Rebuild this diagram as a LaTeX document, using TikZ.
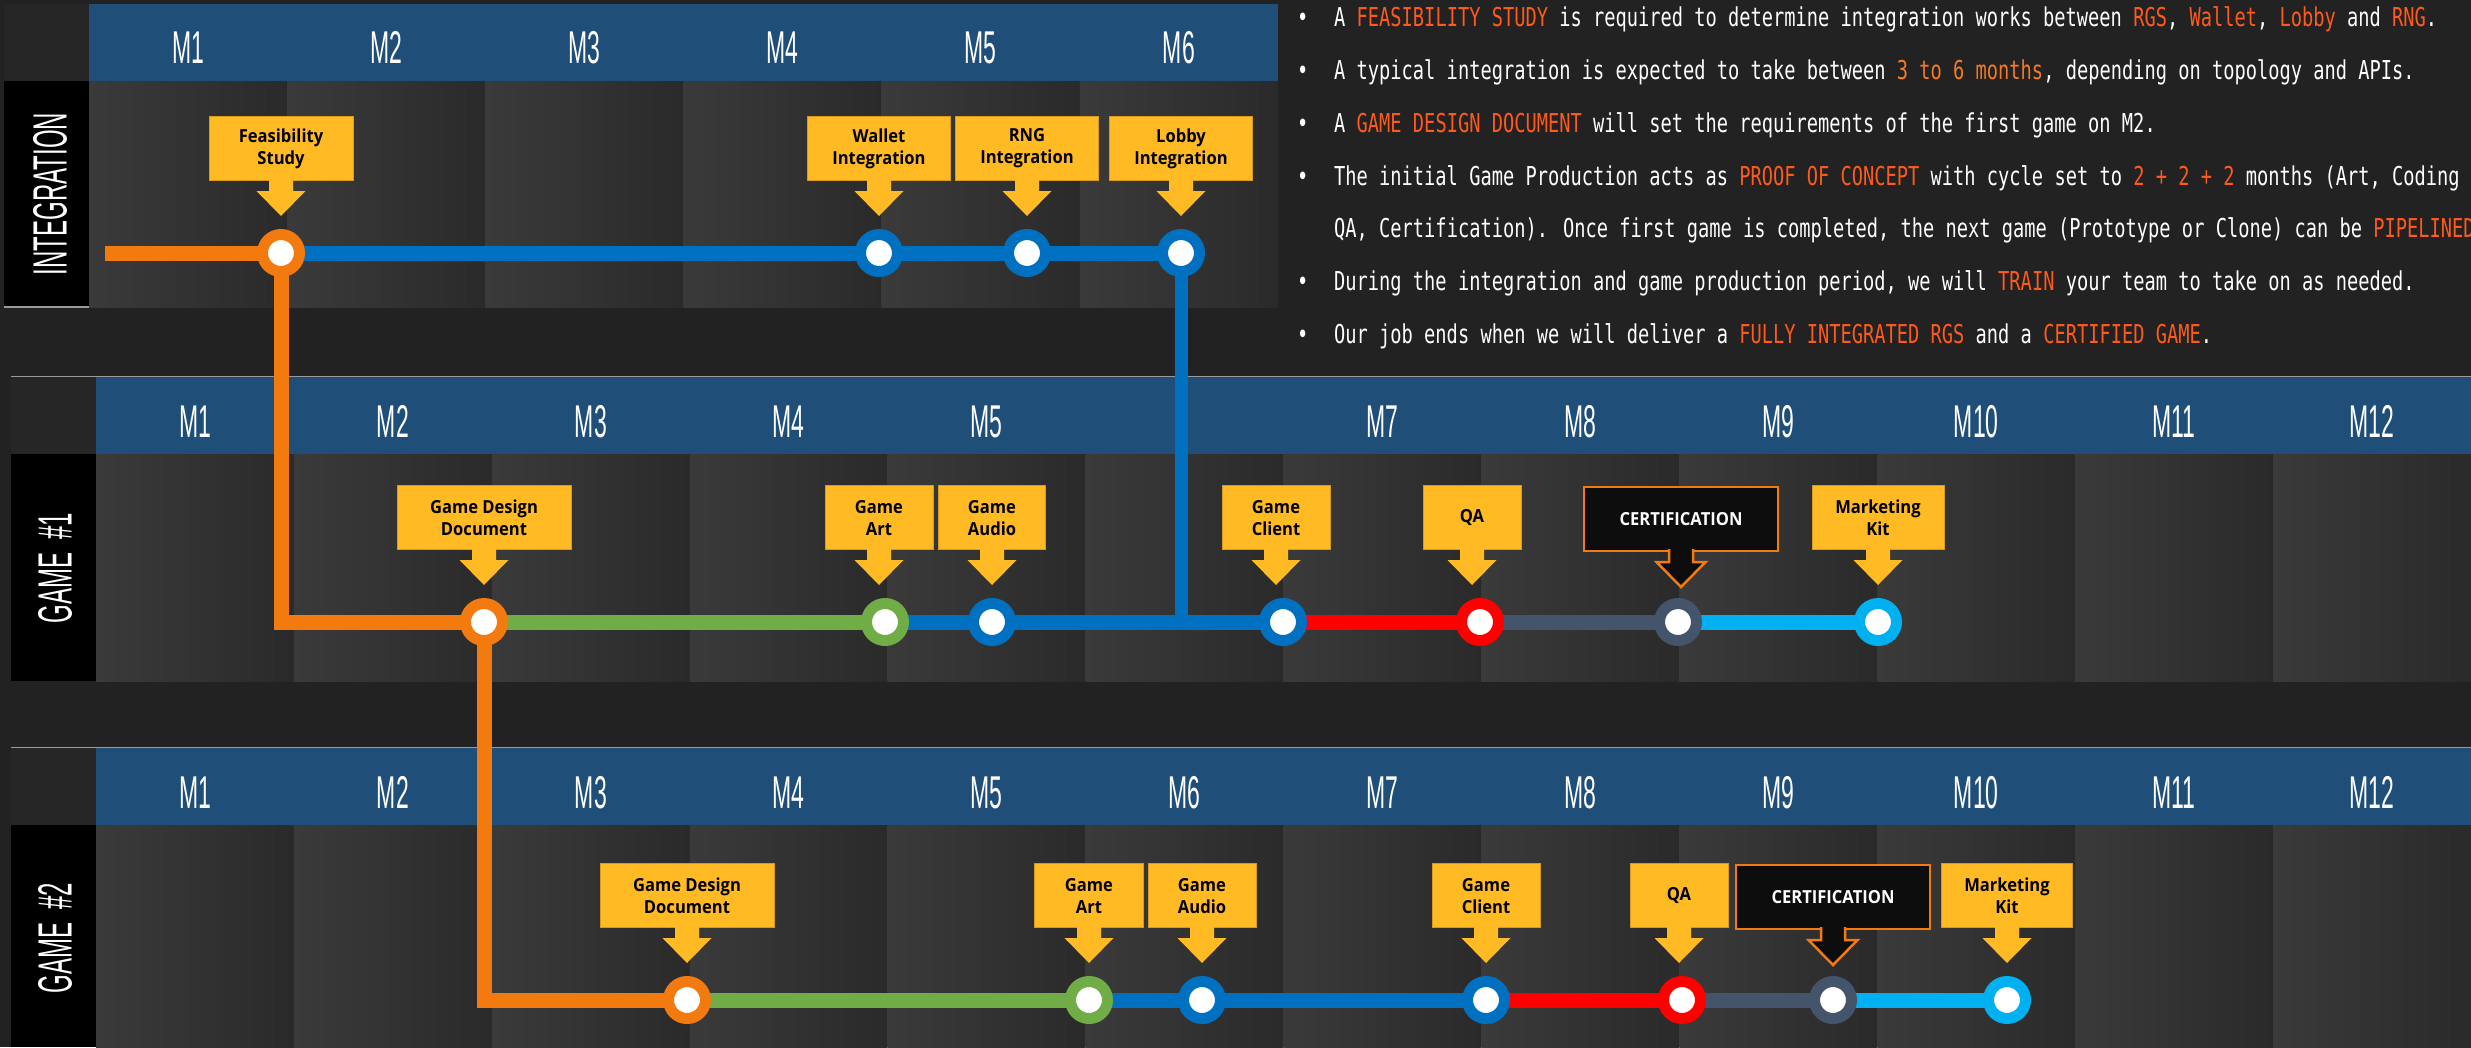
\documentclass[tikz,border=0pt]{standalone}
\usepackage{fontspec}
\usetikzlibrary{positioning, calc}
\newfontfamily\monthfont[FakeStretch=0.5]{Liberation Sans}
\newfontfamily\notefont[FakeStretch=0.719]{DejaVu Sans Mono}
\newfontfamily\tagfont[FakeStretch=0.92]{Open Sans}
\definecolor{bg}{HTML}{222222}
\definecolor{hdr}{HTML}{1F4E79}
\definecolor{colL}{HTML}{3A3A3A}
\definecolor{colR}{HTML}{2A2A2A}
\definecolor{corner}{HTML}{262626}
\definecolor{sepgray}{HTML}{9A9A9A}
\definecolor{orangeL}{HTML}{F27A0E}
\definecolor{blueL}{HTML}{0070C0}
\definecolor{greenL}{HTML}{70AD47}
\definecolor{redL}{HTML}{FF0000}
\definecolor{slateL}{HTML}{44546A}
\definecolor{cyanL}{HTML}{00B0F0}
\definecolor{gold}{HTML}{FFBA24}
\definecolor{goldD}{HTML}{D99A1C}
\definecolor{certblack}{HTML}{0D0D0D}
\definecolor{hl}{HTML}{FF5A1C}
\definecolor{hlb}{HTML}{F47A24}
\pgfdeclarelayer{tracks}
\pgfdeclarelayer{stations}
\pgfsetlayers{main,tracks,stations}
% highlighted words in the notes
\newcommand\hi[1]{\textcolor{hl}{#1}}
% block arrow under a tag box
\newcommand\tagarrow[2]{\path[#2] ([xshift=-12pt,yshift=3pt]#1.south) -- ++(0,13) -- ++(-12.5,0) -- ++(24.5,25) -- ++(24.5,-25) -- ++(-12.5,0) -- ++(0,-13);}

\begin{document}
\begin{tikzpicture}
  [x=1pt, y=-1pt,
  station/.style={circle, minimum size=37pt, inner sep=0pt, line width=11pt, fill=white, draw=#1},
  track/.style={line width=15pt, draw=#1},
  spur/.style={line width=13pt, draw=#1},
  tag/.style={fill=gold, draw=goldD, line width=0.8pt, minimum height=64pt, inner sep=0pt, align=center, text=black, font=\tagfont\bfseries\fontsize{18}{22}\selectfont},
  certbox/.style={tag, fill=certblack, draw=orangeL, line width=2.5pt, text=white},
  month/.style={anchor=base, text=white, inner sep=0pt, font=\monthfont\fontsize{46}{46}\selectfont},
  rowlabel/.style={rotate=90, text=white, inner sep=0pt, font=\monthfont\fontsize{48}{48}\selectfont},
  note/.style={anchor=base west, text=white, inner sep=0pt, font=\notefont\fontsize{26}{26}\selectfont},
  column/.style={left color=colL, right color=colR},
  sepline/.style={draw=sepgray, line width=1.5pt}]

  \clip (0,0) rectangle (2471,1047);
  \fill[bg] (0,0) rectangle (2471,1047);

  % integration row
  \fill[corner] (4,4) rectangle (89,81);
  \fill[hdr] (89,4) rectangle (1278,81);
  \foreach \k in {0,...,5}
    \shade[column] ({89+198.17*\k},81) rectangle ({89+198.17*(\k+1)},307);
  \fill[black] (4,81) rectangle (89,307);
  \draw[sepline] (4,307) -- (89,307);
  \foreach \k in {1,...,6}
    \node[month] (ia-m\k) at ({188+198.17*(\k-1)},63) {M\k};
  \node[rowlabel] (ia-label) at (50,194) {INTEGRATION};

  % game 1 row
  \draw[sepline] (11,377) -- (2471,377);
  \fill[corner] (11,377) rectangle (96,454);
  \fill[hdr] (96,377) rectangle (2471,454);
  \foreach \k in {0,...,11}
    \shade[column] ({96+197.92*\k},454) rectangle ({96+197.92*(\k+1)},681);
  \fill[black] (11,454) rectangle (96,681);
  \foreach \k in {1,...,5,7,8,...,12}
    \node[month] (ga-m\k) at ({195+197.92*(\k-1)},437) {M\k};
  \node[rowlabel] (ga-label) at (55,568) {GAME\ \ \#1};

  % game 2 row
  \draw[sepline] (11,748) -- (2471,748);
  \fill[corner] (11,748) rectangle (96,825);
  \fill[hdr] (96,748) rectangle (2471,825);
  \foreach \k in {0,...,11}
    \shade[column] ({96+197.92*\k},825) rectangle ({96+197.92*(\k+1)},1047);
  \fill[black] (11,825) rectangle (96,1047);
  \foreach \k in {1,...,12}
    \node[month] (gb-m\k) at ({195+197.92*(\k-1)},808) {M\k};
  \node[rowlabel] (gb-label) at (55,938) {GAME\ \ \#2};

  % notes
  \node[note] (n1) at (1297,26) {\makebox[37pt][l]{\textbullet}A \hi{FEASIBILITY STUDY} is required to determine integration works between \hi{RGS}, \hi{Wallet}, \hi{Lobby} and \hi{RNG}.};
  \node[note] (n2) at (1297,79) {\makebox[37pt][l]{\textbullet}A typical integration is expected to take between \textcolor{hlb}{3 to 6 months}, depending on topology and APIs.};
  \node[note] (n3) at (1297,132) {\makebox[37pt][l]{\textbullet}A \hi{GAME DESIGN DOCUMENT} will set the requirements of the first game on M2.};
  \node[note] (n4) at (1297,185) {\makebox[37pt][l]{\textbullet}The initial Game Production acts as \hi{PROOF OF CONCEPT} with cycle set to \hi{2 + 2 + 2} months (Art, Coding};
  \node[note] (n5) at (1334,237) {QA, Certification). Once first game is completed, the next game (Prototype or Clone) can be \hi{PIPELINED}};
  \node[note] (n6) at (1297,290) {\makebox[37pt][l]{\textbullet}During the integration and game production period, we will \hi{TRAIN} your team to take on as needed.};
  \node[note] (n7) at (1297,343) {\makebox[37pt][l]{\textbullet}Our job ends when we will deliver a \hi{FULLY INTEGRATED RGS} and a \hi{CERTIFIED GAME}.};

  % stations
  \begin{pgfonlayer}{stations}
    \node[station=orangeL] (fs) at (281,253) {};
    \node[station=blueL] (wal) at (879,253) {};
    \node[station=blueL] (rng) at (1027,253) {};
    \node[station=blueL] (lob) at (1181,253) {};
    \node[station=orangeL] (gdd1) at (484,622) {};
    \node[station=greenL] (art1) at (885,622) {};
    \node[station=blueL] (aud1) at (992,622) {};
    \node[station=blueL] (cli1) at (1283,622) {};
    \node[station=redL] (qa1) at (1480,622) {};
    \node[station=slateL] (cer1) at (1678,622) {};
    \node[station=cyanL] (mkt1) at (1878,622) {};
    \node[station=orangeL] (gdd2) at (687,1000) {};
    \node[station=greenL] (art2) at (1089,1000) {};
    \node[station=blueL] (aud2) at (1202,1000) {};
    \node[station=blueL] (cli2) at (1486,1000) {};
    \node[station=redL] (qa2) at (1682,1000) {};
    \node[station=slateL] (cer2) at (1833,1000) {};
    \node[station=cyanL] (mkt2) at (2007,1000) {};
  \end{pgfonlayer}

  % lines
  \begin{pgfonlayer}{tracks}
    \coordinate (ia-start) at (105,253);
    \draw[track=orangeL] (ia-start) -- (fs.center);
    \draw[track=blueL] (fs.center) -- (wal.center) -- (rng.center) -- (lob.center);
    \draw[track=orangeL] (fs.center) |- (gdd1.center);
    \draw[spur=blueL] (lob.center) -- (lob.center |- aud1.center);
    \draw[track=greenL] (gdd1.center) -- (art1.center);
    \draw[track=blueL] (art1.center) -- (aud1.center) -- (cli1.center);
    \draw[track=redL] (cli1.center) -- (qa1.center);
    \draw[track=slateL] (qa1.center) -- (cer1.center);
    \draw[track=cyanL] (cer1.center) -- (mkt1.center);
    \draw[track=orangeL] (gdd1.center) |- (gdd2.center);
    \draw[track=greenL] (gdd2.center) -- (art2.center);
    \draw[track=blueL] (art2.center) -- (aud2.center) -- (cli2.center);
    \draw[track=redL] (cli2.center) -- (qa2.center);
    \draw[track=slateL] (qa2.center) -- (cer2.center);
    \draw[track=cyanL] (cer2.center) -- (mkt2.center);
  \end{pgfonlayer}

  % tags
  \node[tag, minimum width=144pt, above=48pt of fs] (fs-tag) {Feasibility\\Study};
  \node[tag, minimum width=143pt, above=48pt of wal] (wal-tag) {Wallet\\Integration};
  \node[tag, minimum width=143pt, above=48pt of rng] (rng-tag) {RNG\\Integration};
  \node[tag, minimum width=143pt, above=48pt of lob] (lob-tag) {Lobby\\Integration};
  \node[tag, minimum width=174pt, above=48pt of gdd1] (gdd1-tag) {Game Design\\Document};
  \node[tag, minimum width=108pt, above=48pt of art1, xshift=-6pt] (art1-tag) {Game\\Art};
  \node[tag, minimum width=107pt, above=48pt of aud1] (aud1-tag) {Game\\Audio};
  \node[tag, minimum width=108pt, above=48pt of cli1, xshift=-7pt] (cli1-tag) {Game\\Client};
  \node[tag, minimum width=98pt, above=48pt of qa1, xshift=-8pt] (qa1-tag) {QA};
  \node[certbox, minimum width=194pt, above=46pt of cer1, xshift=3pt] (cer1-tag) {CERTIFICATION};
  \node[tag, minimum width=132pt, above=48pt of mkt1] (mkt1-tag) {Marketing\\Kit};
  \node[tag, minimum width=174pt, above=48pt of gdd2] (gdd2-tag) {Game Design\\Document};
  \node[tag, minimum width=109pt, above=48pt of art2] (art2-tag) {Game\\Art};
  \node[tag, minimum width=108pt, above=48pt of aud2] (aud2-tag) {Game\\Audio};
  \node[tag, minimum width=108pt, above=48pt of cli2] (cli2-tag) {Game\\Client};
  \node[tag, minimum width=98pt, above=48pt of qa2, xshift=-3pt] (qa2-tag) {QA};
  \node[certbox, minimum width=194pt, above=46pt of cer2] (cer2-tag) {CERTIFICATION};
  \node[tag, minimum width=131pt, above=48pt of mkt2] (mkt2-tag) {Marketing\\Kit};
  \foreach \t in {fs,wal,rng,lob,gdd1,art1,aud1,cli1,qa1,mkt1,gdd2,art2,aud2,cli2,qa2,mkt2}
    \tagarrow{\t-tag}{fill=gold};
  \tagarrow{cer1-tag}{fill=certblack, draw=orangeL, line width=2.5pt}
  \tagarrow{cer2-tag}{fill=certblack, draw=orangeL, line width=2.5pt}
\end{tikzpicture}
\end{document}
